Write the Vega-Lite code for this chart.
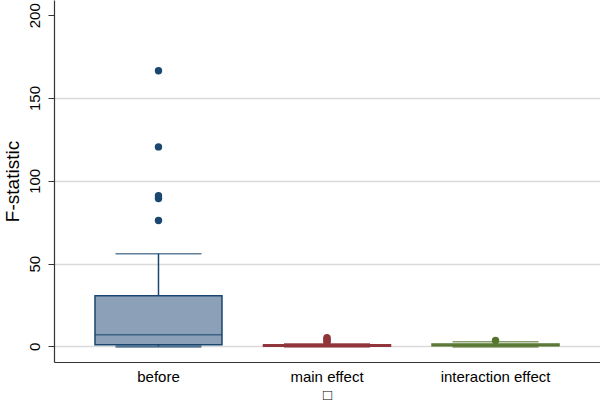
{
  "$schema": "https://vega.github.io/schema/vega-lite/v6.json",
  "width": 546,
  "height": 362,
  "autosize": {"type": "none"},
  "padding": {"left": 54, "top": 0, "right": 0, "bottom": 42},
  "background": "white",
  "config": {
    "view": {"stroke": null},
    "font": "Liberation Sans"
  },
  "datasets": {
    "boxes": [
      {"group": "before", "lower": 0, "q1": 1.0, "median": 7.0, "q3": 30.6, "upper": 56.0},
      {"group": "main effect", "lower": 0, "q1": 0.1, "median": 0.4, "q3": 1.0, "upper": 1.6},
      {"group": "interaction effect", "lower": 0, "q1": 0.4, "median": 0.9, "q3": 1.5, "upper": 2.9}
    ],
    "outliers": [
      {"group": "before", "value": 166.5},
      {"group": "before", "value": 120.5},
      {"group": "before", "value": 91.0},
      {"group": "before", "value": 89.3},
      {"group": "before", "value": 76.0},
      {"group": "main effect", "value": 5.3},
      {"group": "main effect", "value": 4.3},
      {"group": "main effect", "value": 3.4},
      {"group": "main effect", "value": 2.6},
      {"group": "interaction effect", "value": 3.6}
    ]
  },
  "encoding": {
    "x": {
      "field": "group",
      "type": "nominal",
      "sort": ["before", "main effect", "interaction effect"],
      "scale": {"paddingOuter": 0.12, "paddingInner": 0},
      "axis": {
        "title": "□",
        "titleFontSize": 15,
        "titleFontWeight": "normal",
        "titleColor": "black",
        "titlePadding": 3,
        "labelAngle": 0,
        "labelFontSize": 15,
        "labelColor": "black",
        "labelPadding": 7,
        "ticks": false,
        "domainColor": "#333333",
        "domainWidth": 1.2,
        "grid": false
      }
    }
  },
  "layer": [
    {
      "data": {"name": "boxes"},
      "mark": {"type": "rule", "strokeWidth": 1.5},
      "encoding": {
        "y": {
          "field": "lower",
          "type": "quantitative",
          "scale": {"domain": [-9.4, 209.2], "nice": false, "zero": false},
          "axis": {
            "title": "F-statistic",
            "titleFontSize": 19,
            "titleFontWeight": "normal",
            "titleColor": "black",
            "titlePadding": 5,
            "values": [0, 50, 100, 150, 200],
            "labelAngle": -90,
            "labelAlign": "center",
            "labelBaseline": "bottom",
            "labelFontSize": 15,
            "labelColor": "black",
            "labelPadding": 6,
            "tickSize": 6,
            "tickColor": "#333333",
            "domainColor": "#333333",
            "domainWidth": 1.2,
            "grid": true,
            "gridWidth": 1.5,
            "gridColor": {"condition": {"test": "datum.value == 200", "value": "transparent"}, "value": "#d9d9d9"}
          }
        },
        "y2": {"field": "upper"},
        "color": {
          "field": "group",
          "type": "nominal",
          "scale": {"domain": ["before", "main effect", "interaction effect"], "range": ["#1a476f", "#90353b", "#55752f"]},
          "legend": null
        }
      }
    },
    {
      "data": {"name": "boxes"},
      "mark": {"type": "tick", "size": 86, "thickness": 1.5},
      "encoding": {
        "y": {"field": "upper", "type": "quantitative"},
        "color": {"field": "group", "type": "nominal", "legend": null}
      }
    },
    {
      "data": {"name": "boxes"},
      "mark": {"type": "tick", "size": 86, "thickness": 2.5},
      "encoding": {
        "y": {"field": "lower", "type": "quantitative"},
        "color": {"field": "group", "type": "nominal", "legend": null}
      }
    },
    {
      "data": {"name": "boxes"},
      "mark": {"type": "bar", "size": 127, "strokeWidth": 1.5},
      "encoding": {
        "y": {"field": "q1", "type": "quantitative"},
        "y2": {"field": "q3"},
        "fill": {
          "field": "group",
          "type": "nominal",
          "scale": {"domain": ["before", "main effect", "interaction effect"], "range": ["#8ca1b7", "#c49a9d", "#a9ba97"]},
          "legend": null
        },
        "stroke": {
          "field": "group",
          "type": "nominal",
          "scale": {"domain": ["before", "main effect", "interaction effect"], "range": ["#1a476f", "#90353b", "#55752f"]},
          "legend": null
        }
      }
    },
    {
      "data": {"name": "boxes"},
      "mark": {"type": "tick", "size": 127, "thickness": 1.5},
      "encoding": {
        "y": {"field": "median", "type": "quantitative"},
        "color": {"field": "group", "type": "nominal", "legend": null}
      }
    },
    {
      "data": {"name": "outliers"},
      "mark": {"type": "point", "filled": true, "opacity": 1, "size": 55},
      "encoding": {
        "y": {"field": "value", "type": "quantitative"},
        "color": {"field": "group", "type": "nominal", "legend": null}
      }
    }
  ]
}
